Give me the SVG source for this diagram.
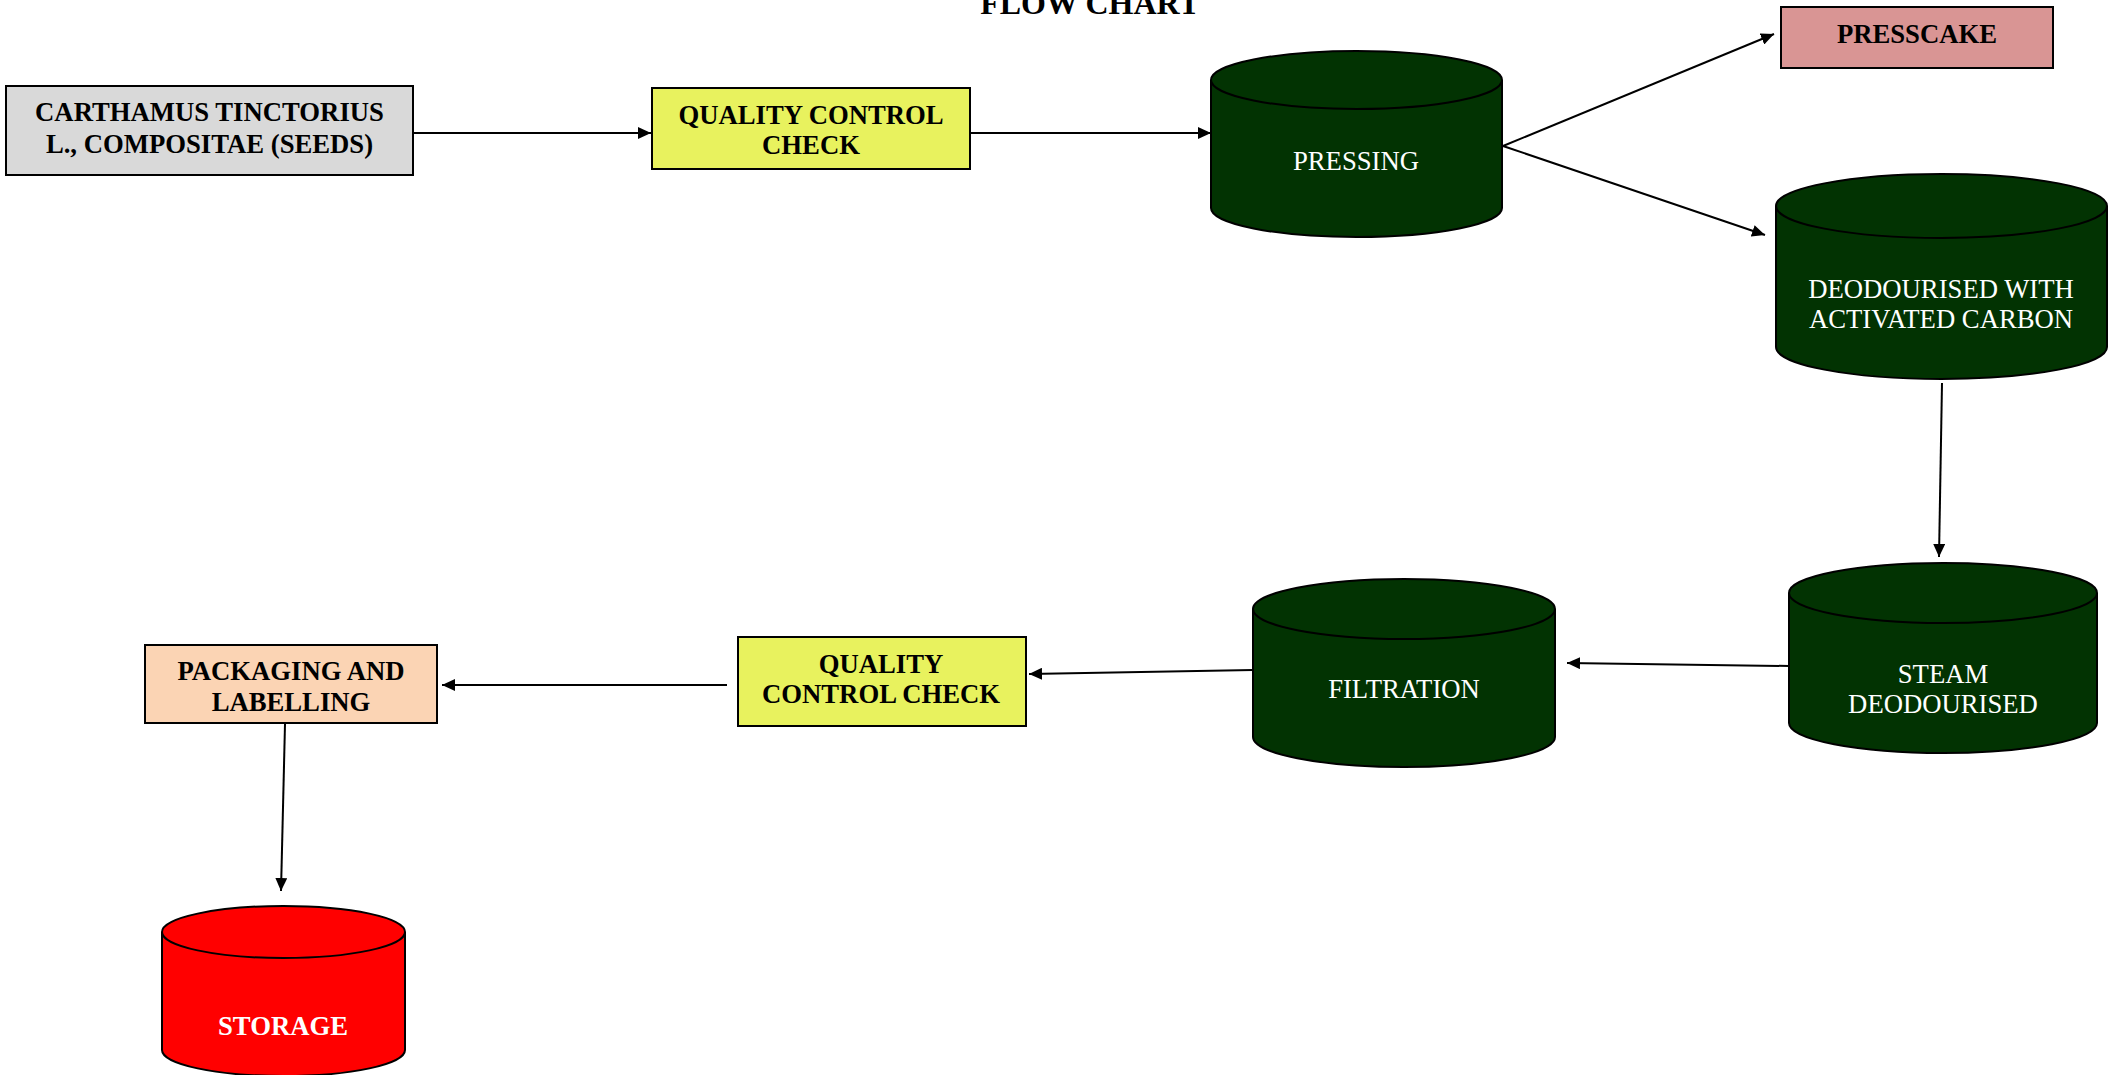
<svg xmlns="http://www.w3.org/2000/svg" width="2109" height="1075" viewBox="0 0 2109 1075">
<style>
.box{stroke:#000;stroke-width:2}
.cyl{fill:#023302;stroke:#000;stroke-width:2}
.cylred{fill:#ff0000;stroke:#000;stroke-width:2}
.edge{fill:none;stroke:#000;stroke-width:2}
.tb{font-family:"Liberation Serif","Times New Roman",serif;font-weight:bold;font-size:26.7px;fill:#000;text-anchor:middle}
.tw{font-family:"Liberation Serif","Times New Roman",serif;font-size:26.7px;fill:#fff;text-anchor:middle}
.twb{font-family:"Liberation Serif","Times New Roman",serif;font-weight:bold;font-size:26.7px;fill:#fff;text-anchor:middle}
.title{font-family:"Liberation Serif","Times New Roman",serif;font-weight:bold;font-size:32px;fill:#000;text-anchor:middle}
</style>
<defs>
<marker id="ah" markerUnits="userSpaceOnUse" markerWidth="14" markerHeight="12" refX="13" refY="6" orient="auto">
<path d="M0,0 L13,6 L0,12 Z" fill="#000"/>
</marker>
</defs>
<rect width="2109" height="1075" fill="#fff"/>
<text class="title" x="1090" y="14">FLOW CHART</text>

<g id="connectors">
<line class="edge" x1="413" y1="133" x2="651" y2="133" marker-end="url(#ah)"/>
<line class="edge" x1="970" y1="133" x2="1211" y2="133" marker-end="url(#ah)"/>
<line class="edge" x1="1503" y1="146" x2="1774" y2="34" marker-end="url(#ah)"/>
<line class="edge" x1="1503" y1="146" x2="1765" y2="235" marker-end="url(#ah)"/>
<line class="edge" x1="1942" y1="383" x2="1939" y2="557" marker-end="url(#ah)"/>
<line class="edge" x1="1789" y1="666" x2="1567" y2="663" marker-end="url(#ah)"/>
<line class="edge" x1="1253" y1="670" x2="1029" y2="674" marker-end="url(#ah)"/>
<line class="edge" x1="727" y1="685" x2="442" y2="685" marker-end="url(#ah)"/>
<line class="edge" x1="285" y1="724" x2="281" y2="891" marker-end="url(#ah)"/>
</g>

<g id="source">
<rect class="box" x="6" y="86" width="407" height="89" fill="#d9d9d9"/>
<text class="tb" x="209.5" y="121">CARTHAMUS TINCTORIUS</text>
<text class="tb" x="209.5" y="153">L., COMPOSITAE (SEEDS)</text>
</g>

<g id="qc1">
<rect class="box" x="652" y="88" width="318" height="81" fill="#e8f25e"/>
<text class="tb" x="811" y="124">QUALITY CONTROL</text>
<text class="tb" x="811" y="154">CHECK</text>
</g>

<g id="pressing">
<path class="cyl" d="M1211,80 A145.5,29 0 0 1 1502,80 V208 A145.5,29 0 0 1 1211,208 Z"/>
<path class="edge" d="M1211,80 A145.5,29 0 0 0 1502,80"/>
<text class="tw" x="1356" y="170">PRESSING</text>
</g>

<g id="presscake">
<rect class="box" x="1781" y="7" width="272" height="61" fill="#d99594"/>
<text class="tb" x="1917" y="43">PRESSCAKE</text>
</g>

<g id="deodourised">
<path class="cyl" d="M1776,206 A165.5,32 0 0 1 2107,206 V347 A165.5,32 0 0 1 1776,347 Z"/>
<path class="edge" d="M1776,206 A165.5,32 0 0 0 2107,206"/>
<text class="tw" x="1941" y="298">DEODOURISED WITH</text>
<text class="tw" x="1941" y="328">ACTIVATED CARBON</text>
</g>

<g id="steam">
<path class="cyl" d="M1789,593 A154,30 0 0 1 2097,593 V723 A154,30 0 0 1 1789,723 Z"/>
<path class="edge" d="M1789,593 A154,30 0 0 0 2097,593"/>
<text class="tw" x="1943" y="683">STEAM</text>
<text class="tw" x="1943" y="713">DEODOURISED</text>
</g>

<g id="filtration">
<path class="cyl" d="M1253,609 A151,30 0 0 1 1555,609 V737 A151,30 0 0 1 1253,737 Z"/>
<path class="edge" d="M1253,609 A151,30 0 0 0 1555,609"/>
<text class="tw" x="1404" y="698">FILTRATION</text>
</g>

<g id="qc2">
<rect class="box" x="738" y="637" width="288" height="89" fill="#e8f25e"/>
<text class="tb" x="881" y="673">QUALITY</text>
<text class="tb" x="881" y="703">CONTROL CHECK</text>
</g>

<g id="packaging">
<rect class="box" x="145" y="645" width="292" height="78" fill="#fbd4b4"/>
<text class="tb" x="291" y="680">PACKAGING AND</text>
<text class="tb" x="291" y="711">LABELLING</text>
</g>

<g id="storage">
<path class="cylred" d="M162,932 A121.5,26 0 0 1 405,932 V1050 A121.5,26 0 0 1 162,1050 Z"/>
<path class="edge" d="M162,932 A121.5,26 0 0 0 405,932"/>
<text class="twb" x="283" y="1035">STORAGE</text>
</g>
</svg>
